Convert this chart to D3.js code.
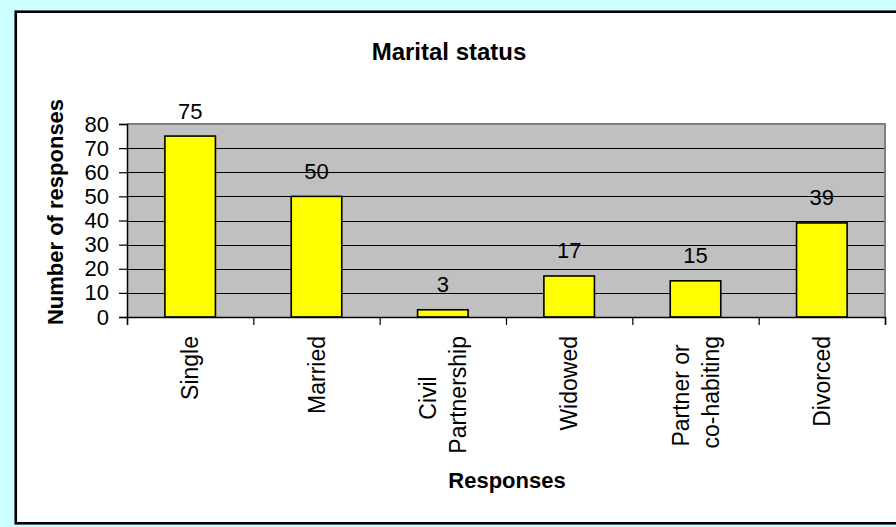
<!DOCTYPE html>
<html>
<head>
<meta charset="utf-8">
<script src="https://cdn.jsdelivr.net/npm/d3@7"></script>
<style>
  html, body { margin: 0; padding: 0; background: #ccffff; }
  svg { display: block; }
  text { font-family: "Liberation Sans", Arial, sans-serif; fill: #000; }
</style>
</head>
<body>
<svg id="chart" width="896" height="527"></svg>
<script>
// ---- data ----
const title = "Marital status";
const yAxisTitle = "Number of responses";
const xAxisTitle = "Responses";
const categories = ["Single", "Married", "Civil Partnership", "Widowed", "Partner or co-habiting", "Divorced"];
const categoryLines = [["Single"], ["Married"], ["Civil ", "Partnership"], ["Widowed"], ["Partner or ", "co-habiting"], ["Divorced"]];
const values = [75, 50, 3, 17, 15, 39];
const yTicks = [0, 10, 20, 30, 40, 50, 60, 70, 80];

// ---- layout ----
const W = 896, H = 527;
const plot = { left: 127, right: 885, top: 124, bottom: 317 };

const svg = d3.select("#chart");

// background panel
svg.append("rect").attr("x", 0).attr("y", 0).attr("width", W).attr("height", H).attr("fill", "#ccffff");
svg.append("rect")
  .attr("x", 15.75).attr("y", 11.7).attr("width", 900).attr("height", 511.6)
  .attr("fill", "#ffffff").attr("stroke", "#000").attr("stroke-width", 2.6);

const x = d3.scaleBand().domain(categories).range([plot.left, plot.right])
  .paddingInner(0.6).paddingOuter(0.3);
const xEdge = d3.scaleLinear().domain([0, categories.length]).range([plot.left, plot.right]);
const y = d3.scaleLinear().domain([0, 80]).range([plot.bottom, plot.top]);

// plot area
svg.append("rect")
  .attr("x", plot.left).attr("y", plot.top)
  .attr("width", plot.right - plot.left).attr("height", plot.bottom - plot.top)
  .attr("fill", "#c0c0c0");

// gridlines
const grid = svg.append("g").attr("transform", `translate(${plot.left},0)`)
  .call(d3.axisLeft(y).tickValues(yTicks.filter(v => v > 0 && v < 80)).tickSize(-(plot.right - plot.left)).tickFormat(""));
grid.select(".domain").remove();
grid.selectAll(".tick line").attr("stroke", "#000").attr("stroke-width", 1).attr("shape-rendering", "crispEdges");

// plot border top/right (grey)
svg.append("path")
  .attr("d", `M${plot.left},${plot.top}H${plot.right}V${plot.bottom}`)
  .attr("fill", "none").attr("stroke", "#808080").attr("stroke-width", 2);

// bars
svg.append("g").selectAll("rect").data(values).join("rect")
  .attr("x", (d, i) => x(categories[i]))
  .attr("y", d => y(d))
  .attr("width", x.bandwidth())
  .attr("height", d => y(0) - y(d))
  .attr("fill", "#ffff00").attr("stroke", "#000").attr("stroke-width", 1.6);

// data labels
svg.append("g").selectAll("text").data(values).join("text")
  .attr("x", (d, i) => x(categories[i]) + x.bandwidth() / 2)
  .attr("y", d => y(d) - 17.5)
  .attr("text-anchor", "middle")
  .attr("font-size", 22)
  .text(d => d);

// y axis
const yAxis = svg.append("g").attr("transform", `translate(${plot.left},0)`)
  .call(d3.axisLeft(y).tickValues(yTicks).tickSize(8).tickPadding(10));
yAxis.select(".domain").attr("stroke", "#000").attr("stroke-width", 1.5);
yAxis.selectAll(".tick line").attr("stroke", "#000").attr("stroke-width", 1.2);
yAxis.selectAll(".tick text").attr("font-size", 22).attr("font-family", "Liberation Sans, Arial, sans-serif");

// x axis (ticks at category edges)
const xAxis = svg.append("g").attr("transform", `translate(0,${plot.bottom})`)
  .call(d3.axisBottom(xEdge).tickValues(d3.range(categories.length + 1)).tickSize(8).tickFormat(""));
xAxis.select(".domain").attr("stroke", "#000").attr("stroke-width", 1.5);
xAxis.selectAll(".tick line").attr("stroke", "#000").attr("stroke-width", 1.2);

// x category labels (rotated, block anchored at top, lines centered)
const labelTop = 336;
const lineH = 30;
const fs = 23;
categoryLines.forEach((lines, i) => {
  const cx = x(categories[i]) + x.bandwidth() / 2;
  const g = svg.append("g").attr("transform", `translate(${cx},0) rotate(-90)`);
  const texts = lines.map((ln, j) => g.append("text")
    .attr("font-size", fs)
    .attr("text-anchor", "middle")
    .attr("xml:space", "preserve")
    .style("white-space", "pre")
    .attr("y", (j - (lines.length - 1) / 2) * lineH + 0.35 * fs)
    .text(ln));
  const maxLen = d3.max(texts, t => t.node().getComputedTextLength());
  texts.forEach(t => t.attr("x", -(labelTop + maxLen / 2)));
});

// titles
svg.append("text")
  .attr("x", 449).attr("y", 60)
  .attr("text-anchor", "middle").attr("font-size", 24).attr("font-weight", "bold")
  .text(title);

svg.append("text")
  .attr("transform", `translate(63,212) rotate(-90)`)
  .attr("text-anchor", "middle").attr("font-size", 22).attr("font-weight", "bold")
  .text(yAxisTitle);

svg.append("text")
  .attr("x", 507).attr("y", 488)
  .attr("text-anchor", "middle").attr("font-size", 22).attr("font-weight", "bold")
  .text(xAxisTitle);
</script>
</body>
</html>
